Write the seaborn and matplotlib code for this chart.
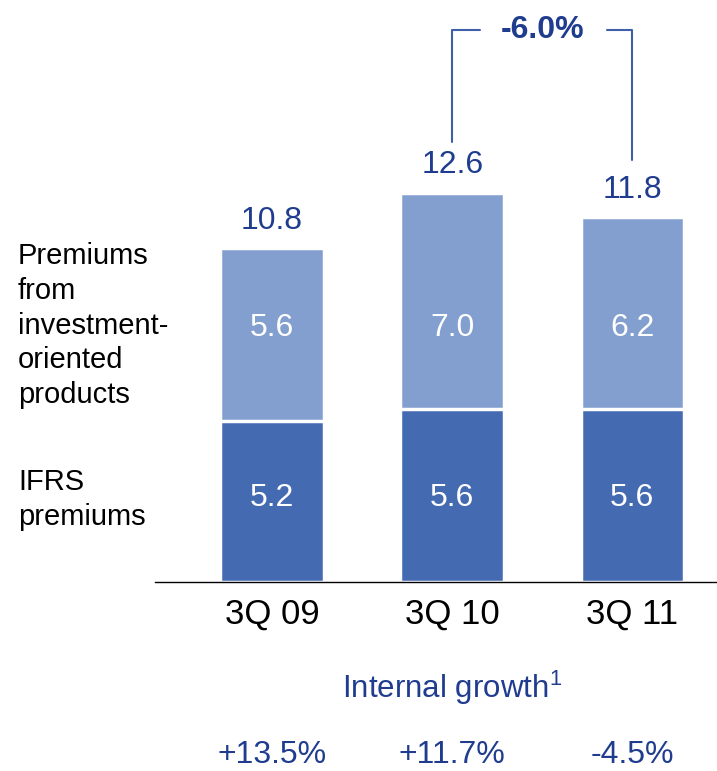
import matplotlib
matplotlib.use("Agg")
import matplotlib.pyplot as plt
import seaborn as sns
import pandas as pd

quarters = ["3Q 09", "3Q 10", "3Q 11"]
ifrs_premiums = [5.2, 5.6, 5.6]
investment_premiums = [5.6, 7.0, 6.2]
totals = [10.8, 12.6, 11.8]
internal_growth = ["+13.5%", "+11.7%", "-4.5%"]
change_label = "-6.0%"

DARK = "#446AB2"
LIGHT = "#829FCF"
NAVY = "#1F3C8F"
FONT = "Liberation Sans"

sns.set_theme(style="white")
plt.rcParams["font.family"] = [FONT, "DejaVu Sans"]
plt.rcParams["mathtext.fontset"] = "custom"
plt.rcParams["mathtext.rm"] = FONT

df = pd.DataFrame({"quarter": quarters, "ifrs": ifrs_premiums,
                   "inv": investment_premiums, "total": totals})

fig = plt.figure(figsize=(7.17, 7.71), dpi=100)
ax = fig.add_axes([155 / 717, (771 - 582) / 771, 1 - 155 / 717, 582 / 771])

sns.barplot(data=df, x="quarter", y="total", color=LIGHT, saturation=1,
            width=0.575, edgecolor="white", linewidth=2.5, ax=ax)
sns.barplot(data=df, x="quarter", y="ifrs", color=DARK, saturation=1,
            width=0.575, edgecolor="white", linewidth=2.5, ax=ax)

ax.set_xlim(-0.65, 2.47)
ax.set_ylim(0, 582 / 30.9)
ax.set_xlabel("")
ax.set_ylabel("")
ax.set_yticks([])
for s in ["top", "right", "left"]:
    ax.spines[s].set_visible(False)
ax.spines["bottom"].set_color("black")
ax.spines["bottom"].set_linewidth(1.0)
ax.tick_params(axis="x", length=0, pad=11, labelsize=25, labelcolor="black")

# in-bar labels sit on a common row in the reference
low_row = 2.72
high_row = 8.22
for i in range(len(quarters)):
    ax.text(i, low_row, f"{ifrs_premiums[i]:.1f}", ha="center", va="center",
            color="white", fontsize=23)
    ax.text(i, high_row, f"{investment_premiums[i]:.1f}",
            ha="center", va="center", color="white", fontsize=23)
    ax.annotate(f"{totals[i]:.1f}", (i, totals[i]), xytext=(0, 9), textcoords="offset points",
                ha="center", va="bottom", color=NAVY, fontsize=23)

# bracket showing change 3Q10 -> 3Q11
ytop = 17.86
ax.plot([1, 1, 1.155], [totals[1] + 1.64, ytop, ytop], color="#3F5FA8", lw=1.5, clip_on=False)
ax.plot([1.861, 2, 2], [ytop, ytop, totals[2] + 1.86], color="#3F5FA8", lw=1.5, clip_on=False)
ax.text(1.5, ytop, change_label, ha="center", va="center", color=NAVY, fontsize=23,
        fontweight="bold")

# left labels
fig.text(18 / 717, 1 - 242 / 771, "Premiums\nfrom\ninvestment-\noriented\nproducts",
         ha="left", va="top", fontsize=21, color="black", linespacing=1.31)
fig.text(18 / 717, 1 - 468 / 771, "IFRS\npremiums", ha="left", va="top", fontsize=21,
         color="black", linespacing=1.31)

# internal growth
fig.text(452 / 717, 1 - 688 / 771, "Internal growth$^{1}$", ha="center", va="center",
         color=NAVY, fontsize=22.5)
for i, g in enumerate(internal_growth):
    ax.text(i, -(755 - 582) / 30.9, g, ha="center", va="center", color=NAVY,
            fontsize=23, clip_on=False)

fig.savefig("out.png", dpi=100)
